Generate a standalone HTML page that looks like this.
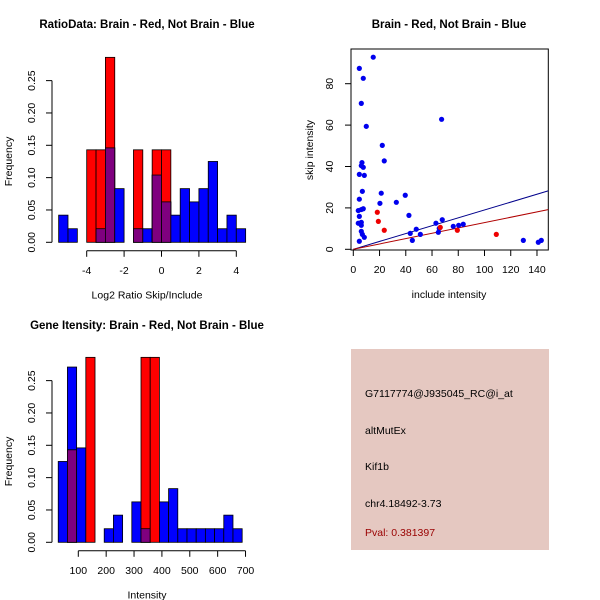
<!DOCTYPE html>
<html><head><meta charset="utf-8"><style>
body{margin:0;background:#fff}
svg{display:block;font-family:"Liberation Sans",Arial,sans-serif}
</style></head><body>
<svg id="s" width="600" height="600" viewBox="0 0 600 600">
<rect width="600" height="600" fill="#fff"/>
<text x="147" y="28" text-anchor="middle" font-size="11.5" font-weight="bold">RatioData: Brain - Red, Not Brain - Blue</text>
<text x="449" y="28" text-anchor="middle" font-size="11.5" font-weight="bold">Brain - Red, Not Brain - Blue</text>
<text x="147" y="329" text-anchor="middle" font-size="11.5" font-weight="bold">Gene Itensity: Brain - Red, Not Brain - Blue</text>
<g id="h1"></g>
<g id="sc"></g>
<g id="h2"></g>
<g>
<rect x="351" y="349" width="198" height="201" fill="#E5C8C1"/>
<text x="365" y="397" font-size="10.5">G7117774@J935045_RC@i_at</text>
<text x="365" y="434" font-size="10.5">altMutEx</text>
<text x="365" y="470" font-size="10.5">Kif1b</text>
<text x="365" y="507" font-size="10.5">chr4.18492-3.73</text>
<text x="365" y="536" font-size="10.5" fill="#990000">Pval: 0.381397</text>
</g>
</svg>
<script>
// Ratio histogram data
const h1Start = -5.5, h1Width = 0.5;
const h1Blue = [0.042,0.021,0,0,0.021,0.146,0.083,0,0.021,0.021,0.104,0.0625,0.042,0.083,0.0625,0.083,0.125,0.021,0.042,0.021];
const h1Red  = [0,0,0,0.143,0.143,0.286,0,0,0.143,0,0.143,0.143,0,0,0,0,0,0,0,0];
const h1XTicks = [-4,-2,0,2,4];
const yTicks = [0,0.05,0.10,0.15,0.20,0.25];
const yTickLabels = ["0.00","0.05","0.10","0.15","0.20","0.25"];
// Intensity histogram data
const h2Start = 28, h2Width = 33;
const h2Blue = [0.125,0.271,0.146,0,0,0.021,0.042,0,0.0625,0.021,0,0.0625,0.083,0.021,0.021,0.021,0.021,0.021,0.042,0.021];
const h2Red  = [0,0.143,0,0.286,0,0,0,0,0,0.286,0.286,0,0,0,0,0,0,0,0,0];
const h2XTicks = [100,200,300,400,500,600,700];
// Scatter data
const blueX = [15.2,4.6,7.6,6.1,9.9,67.3,22.1,23.6,6.6,6.1,7.6,4.6,8.4,6.9,21.3,39.6,32.8,20.3,4.6,7.6,6.1,3.8,4.6,42.4,67.8,3.8,6.1,6.1,63,83.8,80.3,76.2,65.5,48,6.1,6.9,8.4,51.1,43.4,64.8,4.6,45,129.6,141,143.3];
const blueY = [92.8,87.4,82.6,70.5,59.4,62.8,50.2,42.7,41.9,40.4,39.6,36.2,35.7,28.0,27.1,26.1,22.7,22.2,24.2,19.6,19.2,18.7,15.9,16.4,14.3,12.6,13.0,11.6,12.6,12.1,11.6,11.1,10.1,9.7,8.7,7.2,5.8,7.2,7.7,8.2,3.9,4.3,4.3,3.4,4.3];
const redX = [18.3,19.1,23.6,66.3,79.3,109];
const redY = [17.9,13.5,9.2,10.6,9.2,7.2];
const blueSlope = 0.19, redSlope = 0.129;
const scXTicks = [0,20,40,60,80,100,120,140];
const scYTicks = [0,20,40,60,80];

const NS = "http://www.w3.org/2000/svg";
function mk(parent, tag, attrs){const e=document.createElementNS(NS,tag);for(const k in attrs)e.setAttribute(k,attrs[k]);parent.appendChild(e);return e;}

function hist(g, start, width, blue, red, xTicks, xs, y0, xlab){
  const ys = v => y0 - v*646.7;
  for(let i=0;i<blue.length;i++){
    const x0=xs(start+i*width), x1=xs(start+(i+1)*width);
    const b=blue[i], r=red[i], m=Math.min(b,r);
    if(b>0){const e=mk(g,'rect',{x:x0,y:ys(b),width:x1-x0,height:y0-ys(b),fill:'#0000ff',stroke:'#000','stroke-width':0.8});
      
      }
    if(r>0){const e=mk(g,'rect',{x:x0,y:ys(r),width:x1-x0,height:y0-ys(r),fill:'#ff0000',stroke:'#000','stroke-width':0.8});
      
      }
    if(m>0){const e=mk(g,'rect',{x:x0,y:ys(m),width:x1-x0,height:y0-ys(m),fill:'#7f007f',stroke:'#000','stroke-width':0.8});
      
      }
  }
  mk(g,'line',{x1:52,x2:52,y1:ys(0),y2:ys(0.25),stroke:'#000'});
  yTicks.forEach((t,i)=>{
    mk(g,'line',{x1:46,x2:52,y1:ys(t),y2:ys(t),stroke:'#000'});
    const tx=mk(g,'text',{x:35,y:ys(t),'font-size':10.5,'text-anchor':'middle',transform:`rotate(-90 35 ${ys(t)})`});
    tx.textContent=yTickLabels[i];
    
    
  });
  const ay=y0+8.5;
  mk(g,'line',{x1:xs(xTicks[0]),x2:xs(xTicks[xTicks.length-1]),y1:ay,y2:ay,stroke:'#000'});
  xTicks.forEach(t=>{
    mk(g,'line',{x1:xs(t),x2:xs(t),y1:ay,y2:ay+6,stroke:'#000'});
    const tx=mk(g,'text',{x:xs(t),y:ay+23,'font-size':10.5,'text-anchor':'middle'});
    tx.textContent=String(t);
    
    
  });
  const xl=mk(g,'text',{x:147,y:y0+56,'font-size':10.5,'text-anchor':'middle'});
  xl.textContent=xlab;
  
  
  const yl=mk(g,'text',{x:12,y:ys(0.125),'font-size':10.5,'text-anchor':'middle',transform:`rotate(-90 12 ${ys(0.125)})`});
  yl.textContent='Frequency';
  
  
}
hist(document.getElementById('h1'),h1Start,h1Width,h1Blue,h1Red,h1XTicks,v=>86.7+(v+4)*18.7,242.3,'Log2 Ratio Skip/Include');
hist(document.getElementById('h2'),h2Start,h2Width,h2Blue,h2Red,h2XTicks,v=>78.3+(v-100)*0.2787,542.3,'Intensity');

(function(){
  const g=document.getElementById('sc');
  const sx=v=>353.3+v*1.312, sy=v=>249.3-v*2.07;
  mk(g,'rect',{x:351,y:49,width:197.3,height:201,fill:'none',stroke:'#000'});
  scXTicks.forEach(t=>{
    mk(g,'line',{x1:sx(t),x2:sx(t),y1:250,y2:256,stroke:'#000'});
    const tx=mk(g,'text',{x:sx(t),y:273,'font-size':10.5,'text-anchor':'middle'});tx.textContent=t;
    
    
  });
  scYTicks.forEach(t=>{
    mk(g,'line',{x1:345,x2:351,y1:sy(t),y2:sy(t),stroke:'#000'});
    const tx=mk(g,'text',{x:333,y:sy(t),'font-size':10.5,'text-anchor':'middle',transform:`rotate(-90 333 ${sy(t)})`});tx.textContent=t;
    
    
  });
  const xl=mk(g,'text',{x:449,y:298,'font-size':10.5,'text-anchor':'middle'});xl.textContent='include intensity';
  
  
  const yl=mk(g,'text',{x:313,y:150,'font-size':10.5,'text-anchor':'middle',transform:'rotate(-90 313 150)'});yl.textContent='skip intensity';
  
  
  const xmax=148.5;
  const bl=mk(g,'line',{x1:sx(0),y1:sy(0),x2:sx(xmax),y2:sy(blueSlope*xmax),stroke:'#00008b'});
  
  
  const rl=mk(g,'line',{x1:sx(0),y1:sy(0),x2:sx(xmax),y2:sy(redSlope*xmax),stroke:'#b00000'});
  
  
  blueX.forEach((x,i)=>{const c=mk(g,'circle',{cx:sx(x),cy:sy(blueY[i]),r:2.6,fill:'#0000ee'});
    
    });
  redX.forEach((x,i)=>{const c=mk(g,'circle',{cx:sx(x),cy:sy(redY[i]),r:2.6,fill:'#ee0000'});
    
    });
})();
</script>
</body></html>
